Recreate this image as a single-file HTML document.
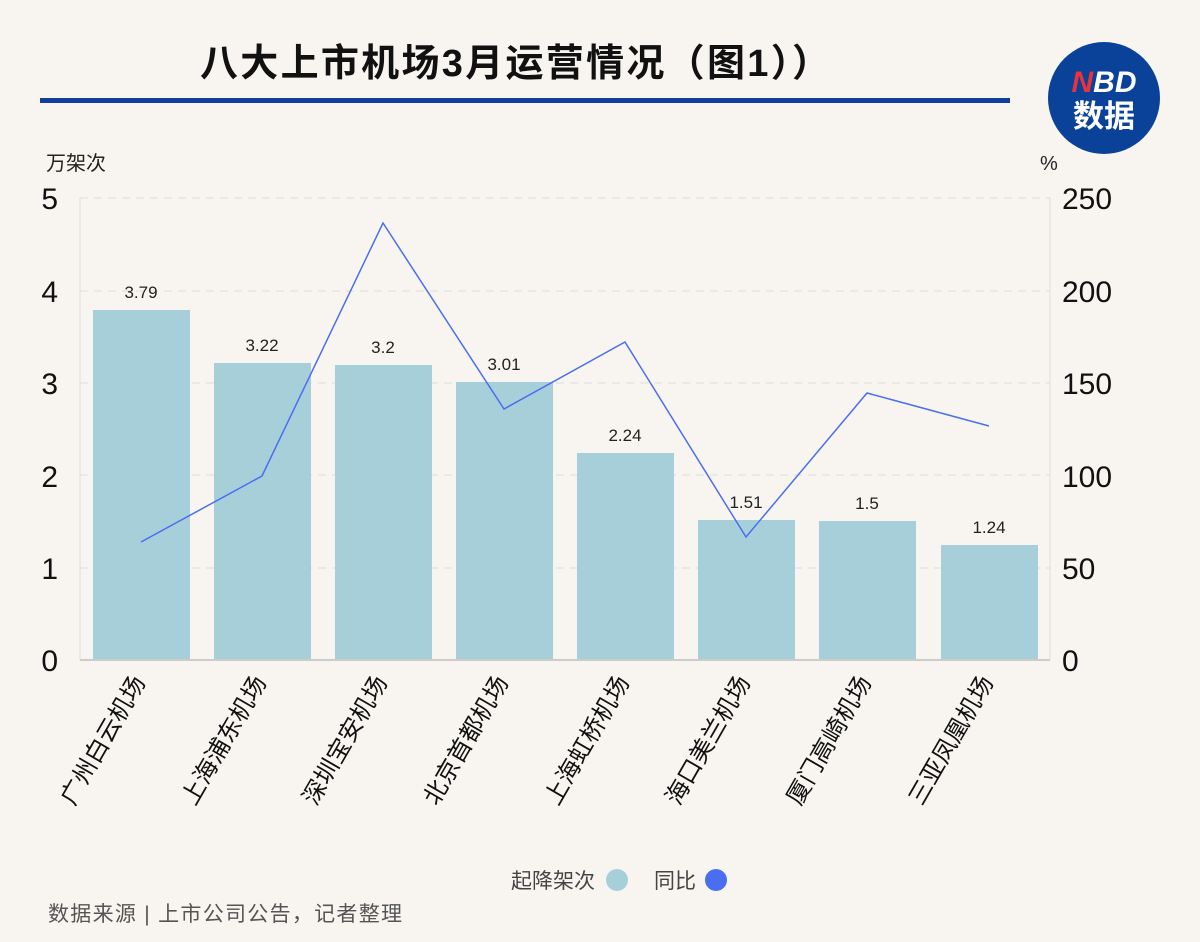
<!DOCTYPE html>
<html><head><meta charset="utf-8"><style>
body{margin:0;background:#f8f5f1;}
svg{display:block;font-family:"Liberation Sans","Noto Sans CJK SC",sans-serif;}
</style></head><body>
<svg width="1200" height="942" viewBox="0 0 1200 942">
<rect width="1200" height="942" fill="#f8f5f1"/>
<text x="200" y="76" font-size="38" font-weight="bold" fill="#111" textLength="630" lengthAdjust="spacing">八大上市机场3月运营情况（图1））</text>
<rect x="40" y="98" width="970" height="5" fill="#0f3f9a"/>
<circle cx="1104" cy="98" r="56" fill="#0a4199"/>
<text x="1104" y="92" text-anchor="middle" font-size="30" font-weight="bold" font-style="italic" fill="#fff"><tspan fill="#e8323c">N</tspan>BD</text>
<text x="1104" y="127" text-anchor="middle" font-size="31" font-weight="bold" fill="#fff">数据</text>
<text x="46" y="170" font-size="20" fill="#222">万架次</text>
<text x="1040" y="170" font-size="20" fill="#222">%</text>
<g stroke="#ddd" stroke-dasharray="8,6" stroke-width="1">
<line x1="80" x2="1050" y1="198" y2="198"/><line x1="80" x2="1050" y1="291" y2="291"/>
<line x1="80" x2="1050" y1="383" y2="383"/><line x1="80" x2="1050" y1="475" y2="475"/>
<line x1="80" x2="1050" y1="568" y2="568"/></g>
<line x1="80" y1="198" x2="80" y2="660" stroke="#ddd"/>
<line x1="1050" y1="198" x2="1050" y2="660" stroke="#ddd"/>
<g font-size="30" fill="#111" text-anchor="end">
<text x="58" y="209">5</text><text x="58" y="302">4</text><text x="58" y="394">3</text>
<text x="58" y="487">2</text><text x="58" y="579">1</text><text x="58" y="671">0</text></g>
<g font-size="30" fill="#111">
<text x="1062" y="209">250</text><text x="1062" y="302">200</text><text x="1062" y="394">150</text>
<text x="1062" y="487">100</text><text x="1062" y="579">50</text><text x="1062" y="671">0</text></g>
<g fill="#a7cfd9">
<rect x="93" y="310" width="97" height="350"/><rect x="214" y="363" width="97" height="297"/>
<rect x="335" y="365" width="97" height="295"/><rect x="456" y="382" width="97" height="278"/>
<rect x="577" y="453" width="97" height="207"/><rect x="698" y="520" width="97" height="140"/>
<rect x="819" y="521" width="97" height="139"/><rect x="941" y="545" width="97" height="115"/></g>
<line x1="80" y1="660" x2="1050" y2="660" stroke="#ccc" stroke-width="2"/>
<g font-size="17" fill="#222" text-anchor="middle">
<text x="141" y="298">3.79</text><text x="262" y="351">3.22</text><text x="383" y="353">3.2</text>
<text x="504" y="370">3.01</text><text x="625" y="441">2.24</text><text x="746" y="508">1.51</text>
<text x="867" y="509">1.5</text><text x="989" y="533">1.24</text></g>
<polyline points="141,542 262,476 383,223 504,409 625,342 746,537 867,393 989,426" fill="none" stroke="#4a6ef0" stroke-width="1.5"/>
<g font-size="24" fill="#111" text-anchor="end">
<text transform="translate(146,682) rotate(-60)">广州白云机场</text>
<text transform="translate(267,682) rotate(-60)">上海浦东机场</text>
<text transform="translate(388,682) rotate(-60)">深圳宝安机场</text>
<text transform="translate(509,682) rotate(-60)">北京首都机场</text>
<text transform="translate(630,682) rotate(-60)">上海虹桥机场</text>
<text transform="translate(751,682) rotate(-60)">海口美兰机场</text>
<text transform="translate(872,682) rotate(-60)">厦门高崎机场</text>
<text transform="translate(994,682) rotate(-60)">三亚凤凰机场</text></g>
<text x="511" y="888" font-size="21" fill="#444">起降架次</text>
<circle cx="617" cy="880" r="11" fill="#a7cfd9"/>
<text x="654" y="888" font-size="21" fill="#444">同比</text>
<circle cx="716" cy="880" r="11" fill="#4a6ef0"/>
<text x="48" y="921" font-size="21" fill="#555" textLength="354" lengthAdjust="spacing">数据来源 | 上市公司公告，记者整理</text>
</svg>
</body></html>
